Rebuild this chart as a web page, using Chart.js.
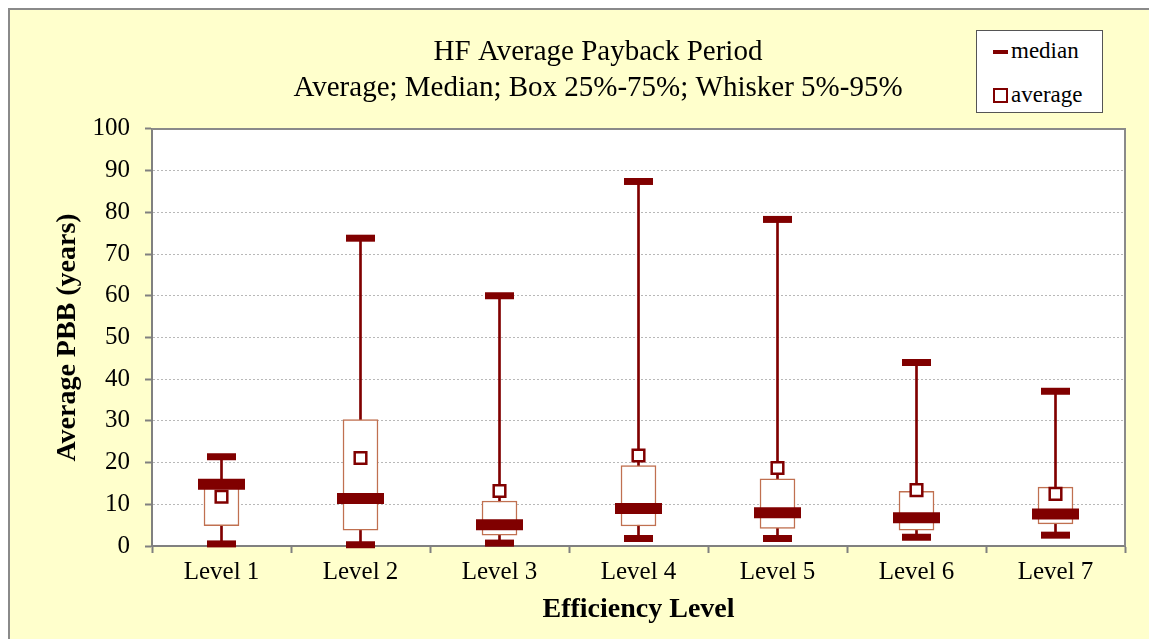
<!DOCTYPE html>
<html>
<head>
<meta charset="utf-8">
<script src="https://cdn.jsdelivr.net/npm/chart.js@4.4.1/dist/chart.umd.min.js"></script>
<style>
html, body { margin: 0; padding: 0; background: #fff; overflow: hidden; width: 1149px; height: 639px; }
#frame { position: absolute; left: 8px; top: 8px; width: 1200px; height: 700px; background: #FFFFCC;
  border-left: 2px solid #8a8a8a; border-top: 2px solid #8a8a8a; }
#wrap { position: absolute; left: 10px; top: 10px; width: 1176px; height: 629px; }
#legend { position: absolute; left: 976px; top: 30px; width: 125px; height: 81px; background: #fff;
  border: 1.5px solid #555; font-family: "Liberation Serif", "Times New Roman", serif; font-size: 23px; color: #000; }
#legend .txt { position: absolute; left: 34px; line-height: 26px; }
#legend .ln { position: absolute; left: 16px; top: 19px; width: 15px; height: 4px; background: #800000; }
#legend .sq { position: absolute; left: 16px; top: 57px; width: 11px; height: 11px; border: 2px solid #800000; background: #fff; }
</style>
</head>
<body>
<div id="frame"></div>
<div id="wrap"><canvas id="chart" width="1176" height="629"></canvas></div>
<div id="legend">
  <div class="ln"></div><div class="txt" style="top:7px">median</div>
  <div class="sq"></div><div class="txt" style="top:51px">average</div>
</div>
<script>
// values (years)
const levels = ["Level 1", "Level 2", "Level 3", "Level 4", "Level 5", "Level 6", "Level 7"]
const p5 = [0.5, 0.3, 0.7, 1.8, 1.8, 2.1, 2.6]
const p25 = [4.9, 3.8, 2.6, 4.8, 4.2, 3.8, 5.3]
const median = [14.8, 11.4, 5.1, 9.0, 8.0, 6.8, 7.7]
const p75 = [15.2, 30.3, 10.8, 19.3, 16.1, 13.1, 14.1]
const p95 = [21.4, 73.8, 60.0, 87.4, 78.3, 44.0, 37.1]
const average = [11.8, 21.1, 13.2, 21.7, 18.7, 13.4, 12.5]

const yTicks = [0, 10, 20, 30, 40, 50, 60, 70, 80, 90, 100]

const darkRed = "#800000"
const boxColor = "#C07050"
const serif = "'Liberation Serif', 'Times New Roman', serif"

const whiskers = levels.map((l, i) => [p5[i], p95[i]])
const boxes = levels.map((l, i) => [p25[i], p75[i]])

const plotFrame = {
    id: "plotFrame",
    beforeDraw(chart) {
        const a = chart.chartArea
        chart.ctx.save()
        chart.ctx.fillStyle = "#fff"
        chart.ctx.fillRect(a.left, a.top, a.width, a.height)
        chart.ctx.restore()
    },
    afterDraw(chart) {
        const a = chart.chartArea
        const ctx = chart.ctx
        ctx.save()
        ctx.strokeStyle = "#8a8a8a"
        ctx.lineWidth = 2
        ctx.beginPath()
        ctx.moveTo(a.left, a.top)
        ctx.lineTo(a.right, a.top)
        ctx.lineTo(a.right, a.bottom)
        ctx.stroke()
        ctx.restore()
    }
}

new Chart(document.getElementById("chart").getContext("2d"), {
    data: {
        labels: levels,
        datasets: [
            {
                type: "bar", label: "whisker", data: whiskers,
                backgroundColor: darkRed, borderWidth: 0,
                barThickness: 2, grouped: false, order: 5
            },
            {
                type: "bar", label: "box", data: boxes,
                backgroundColor: "#fff", borderColor: boxColor, borderWidth: 1.5,
                borderSkipped: false, barThickness: 35, grouped: false, order: 4
            },
            {
                type: "line", label: "median", data: median, showLine: false,
                pointStyle: "line", pointRadius: 23.5, pointBorderWidth: 11,
                pointBorderColor: darkRed, clip: false, order: 3
            },
            {
                type: "line", label: "average", data: average, showLine: false,
                pointStyle: "rect", pointRadius: 8.2, pointBorderWidth: 2.5,
                pointBorderColor: darkRed, pointBackgroundColor: "#fff", clip: false, order: 2
            },
            {
                type: "line", label: "p95", data: p95, showLine: false,
                pointStyle: "line", pointRadius: 14.5, pointBorderWidth: 7,
                pointBorderColor: darkRed, clip: false, order: 1
            },
            {
                type: "line", label: "p5", data: p5, showLine: false,
                pointStyle: "line", pointRadius: 14.5, pointBorderWidth: 7,
                pointBorderColor: darkRed, clip: false, order: 1
            }
        ]
    },
    options: {
        responsive: false,
        animation: false,
        events: [],
        layout: { padding: 0 },
        plugins: {
            legend: { display: false },
            tooltip: { enabled: false },
            title: {
                display: true,
                text: ["HF Average Payback Period", "Average; Median; Box 25%-75%; Whisker 5%-95%"],
                color: "#000",
                font: { family: serif, size: 29, weight: "normal", lineHeight: 1.24 },
                padding: { top: 24, bottom: 23 }
            }
        },
        scales: {
            x: {
                type: "category",
                offset: true,
                grid: {
                    display: true, offset: true, drawOnChartArea: false,
                    drawTicks: true, tickLength: 7, tickColor: "#808080", tickWidth: 2
                },
                border: { display: true, color: "#808080", width: 2 },
                ticks: { color: "#000", padding: 4, font: { family: serif, size: 25 } },
                title: {
                    display: true, text: "Efficiency Level", color: "#000",
                    font: { family: serif, size: 28, weight: "bold" },
                    padding: { top: 0, bottom: 12 }
                },
                afterFit(axis) { axis.height = 93 }
            },
            y: {
                type: "linear",
                min: yTicks[0], max: yTicks[yTicks.length - 1],
                afterBuildTicks(axis) { axis.ticks = yTicks.map(v => ({ value: v })) },
                grid: {
                    color: "#b8b8b8", lineWidth: 1,
                    tickColor: "#808080", tickLength: 7, tickWidth: 2, tickBorderDash: []
                },
                border: { display: true, color: "#808080", width: 2, dash: [2, 2] },
                ticks: { color: "#000", padding: 15, font: { family: serif, size: 25 } },
                title: {
                    display: true, text: "Average PBB (years)", color: "#000",
                    font: { family: serif, size: 28, weight: "bold" },
                    padding: { top: 41, bottom: 0 }
                },
                afterFit(axis) { axis.width = 142 }
            },
            yr: {
                type: "linear", position: "right", display: true,
                grid: { display: false }, border: { display: false },
                ticks: { display: false },
                afterFit(axis) { axis.width = 61 }
            }
        }
    },
    plugins: [plotFrame]
})
</script>
</body>
</html>
